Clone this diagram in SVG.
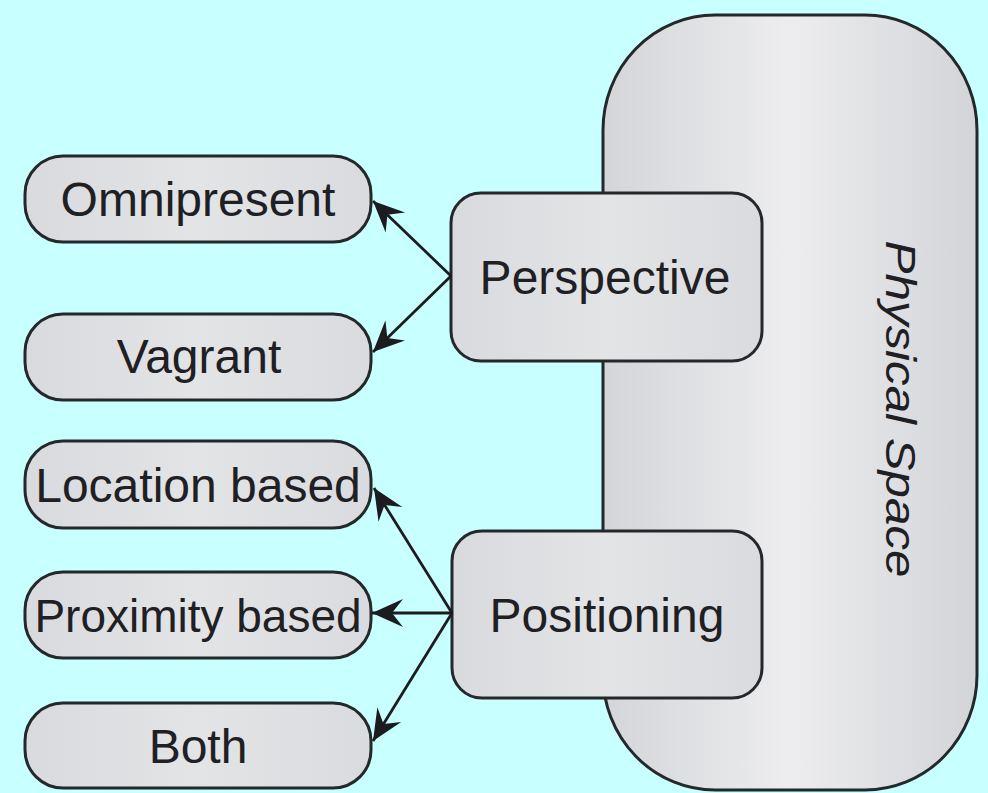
<svg xmlns="http://www.w3.org/2000/svg" width="988" height="793" viewBox="0 0 988 793">
  <defs>
    <linearGradient id="spaceFill" x1="0" y1="0" x2="1" y2="0">
      <stop offset="0" stop-color="#d3d5d8"/>
      <stop offset="0.5" stop-color="#ededef"/>
      <stop offset="1" stop-color="#d2d4d7"/>
    </linearGradient>
    <linearGradient id="boxFill" x1="0" y1="0" x2="1" y2="0">
      <stop offset="0" stop-color="#d9dadd"/>
      <stop offset="0.5" stop-color="#e3e4e6"/>
      <stop offset="1" stop-color="#dadbde"/>
    </linearGradient>
    <marker id="arrow" markerUnits="userSpaceOnUse" markerWidth="34" markerHeight="32" viewBox="-32 -16 34 32" refX="0" refY="0" orient="auto">
      <path d="M0,0 L-31,-14 L-20,0 L-31,14 Z" fill="#1c1c20"/>
    </marker>
    <style>
      .node { fill: url(#boxFill); stroke: #25282b; stroke-width: 3; }
      .label { font-family: "Liberation Sans", Arial, sans-serif; font-size: 48px; fill: #1f2023; text-anchor: middle; }
      .side { font-style: italic; font-size: 42px; }
      .tight { font-size: 46px; }
      .link { stroke: #1c1c20; stroke-width: 2.8; fill: none; marker-end: url(#arrow); }
    </style>
  </defs>

  <!-- background -->
  <rect x="0" y="0" width="988" height="793" fill="#c8ffff"/>

  <!-- tall container -->
  <g id="physical-space">
    <rect x="603" y="15" width="374" height="775" rx="112" ry="115" fill="url(#spaceFill)" stroke="#25282b" stroke-width="3"/>
    <text class="label side" transform="translate(886 409) rotate(90)" textLength="337" lengthAdjust="spacingAndGlyphs">Physical Space</text>
  </g>

  <!-- left-hand options -->
  <g id="omnipresent">
    <rect class="node" x="25" y="156" width="346" height="86" rx="38"/>
    <text class="label" x="198" y="216">Omnipresent</text>
  </g>
  <g id="vagrant">
    <rect class="node" x="25" y="314" width="346" height="86" rx="38"/>
    <text class="label" x="199" y="373">Vagrant</text>
  </g>
  <g id="location-based">
    <rect class="node" x="25" y="441" width="346" height="87" rx="38"/>
    <text class="label" x="198" y="502">Location based</text>
  </g>
  <g id="proximity-based">
    <rect class="node" x="25" y="572" width="346" height="86" rx="38"/>
    <text class="label tight" x="198" y="632">Proximity based</text>
  </g>
  <g id="both">
    <rect class="node" x="25" y="703" width="346" height="85" rx="38"/>
    <text class="label" x="198" y="763">Both</text>
  </g>

  <!-- categories on the container -->
  <g id="perspective">
    <rect class="node" x="451" y="193" width="311" height="168" rx="30"/>
    <text class="label" x="605" y="294">Perspective</text>
  </g>
  <g id="positioning">
    <rect class="node" x="452" y="531" width="310" height="167" rx="30"/>
    <text class="label" x="607" y="632">Positioning</text>
  </g>

  <!-- connectors -->
  <g id="connectors">
    <line class="link" x1="451" y1="276" x2="373" y2="201"/>
    <line class="link" x1="451" y1="276" x2="373" y2="352"/>
    <line class="link" x1="452" y1="613" x2="374" y2="488"/>
    <line class="link" x1="452" y1="613" x2="372" y2="613"/>
    <line class="link" x1="452" y1="613" x2="373" y2="741"/>
  </g>
</svg>
